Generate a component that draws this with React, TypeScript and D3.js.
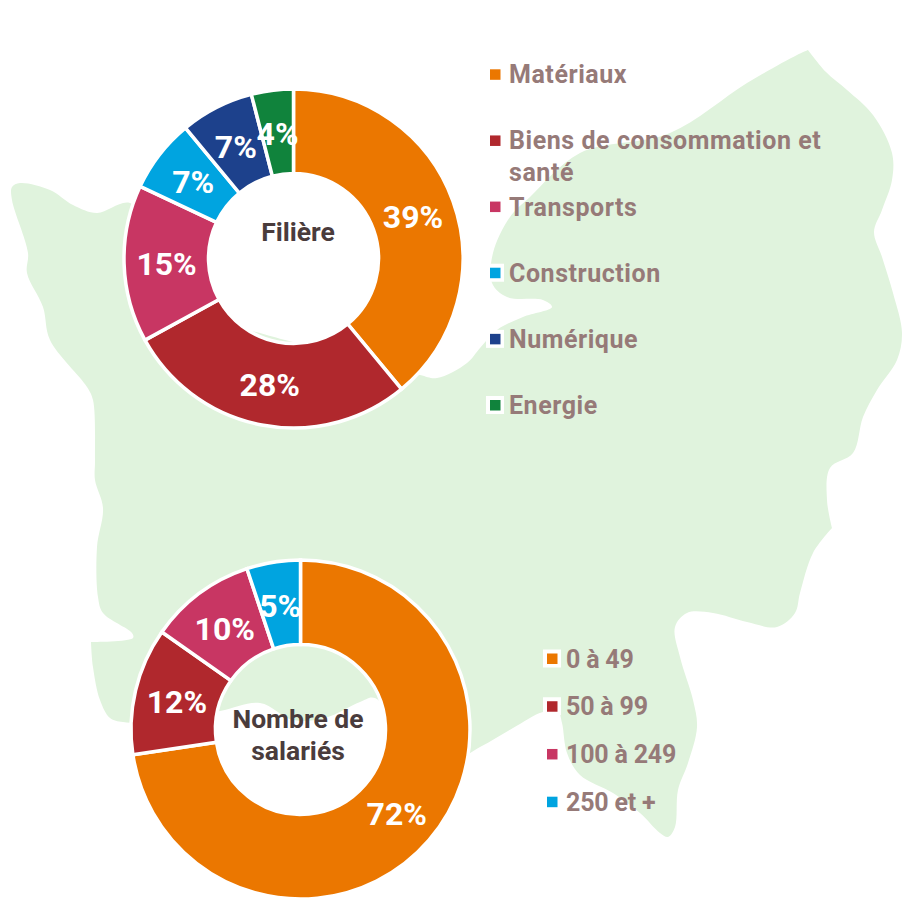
import React from "react";
import * as d3 from "d3";

// ---------- data ----------
const filiereCategories = [
  ["Matériaux"],
  ["Biens de consommation et", "santé"],
  ["Transports"],
  ["Construction"],
  ["Numérique"],
  ["Energie"],
];
const filiereValues = [39, 28, 15, 7, 7, 4];
const filiereTitle = ["Filière"];

const salariesCategories = [["0 à 49"], ["50 à 99"], ["100 à 249"], ["250 et +"]];
const salariesValues = [72.4, 12.1, 10.1, 5.1];
const salariesTitle = ["Nombre de", "salariés"];

const sliceColors = ["#EB7700", "#B0282D", "#C83663", "#00A4E0", "#1D418C", "#10833C"];

// Decorative map silhouette behind the charts.
// Each run ends at a sharp corner of the outline.
const mapRunEast: [number, number][] = [
  [808, 50], [826, 72], [847, 90], [873, 115], [892, 153], [892, 180], [882, 210], [874, 232],
  [882, 257], [893, 293], [902, 333], [897, 360], [877, 390], [863, 417], [853, 453], [830, 468],
  [827, 500], [832, 528],
];
const mapRunSouth: [number, number][] = [
  [832, 528], [813, 553], [800, 593], [795, 613], [777, 627], [747, 622], [713, 613],
  [687, 613], [675, 627], [680, 657], [693, 700], [697, 727], [688, 763], [678, 790], [675, 827],
  [668, 837], [660, 833], [640, 813], [613, 793], [580, 775], [567, 753], [562, 723], [558, 712],
  [543, 712], [513, 728], [480, 747], [430, 770], [375, 698], [360, 702], [325, 718], [293, 720],
  [260, 703], [220, 711], [160, 722], [123, 722], [110, 718], [100, 700], [93, 667], [91, 642],
];
const mapRunWest: [number, number][] = [
  [91, 642], [133, 638], [132, 633], [103, 613], [98, 597], [97, 547], [103, 508], [95, 480],
  [95, 460], [93, 400], [87, 387], [50, 340], [43, 307], [27, 273], [28, 253], [12, 200],
  [12, 187], [20, 183], [50, 190], [73, 205], [97, 213], [130, 203], [170, 245], [215, 318],
  [260, 333], [293, 342], [360, 358], [420, 375], [437, 378], [467, 363], [480, 348], [497, 330],
  [523, 317], [552, 307], [543, 300], [507, 297], [492, 283], [493, 253], [510, 217], [530, 197],
  [580, 153], [670, 133], [747, 83], [797, 55], [808, 50],
];

// ---------- helpers ----------
const FONT = "Roboto, 'Liberation Sans', sans-serif";
const LEGEND_COLOR = "#967A78";
const TITLE_COLOR = "#4A3C3C";
const MAP_COLOR = "#E0F3DD";

type DonutProps = {
  cx: number;
  cy: number;
  values: number[];
  title: string[];
  titleX: number;
  titleY: number;
};

function Donut({ cx, cy, values, title, titleX, titleY }: DonutProps) {
  const outer = 169.5;
  const inner = 85;
  const pie = d3.pie<number>().sort(null).value((d) => d);
  const arc = d3.arc<d3.PieArcDatum<number>>().outerRadius(outer).innerRadius(inner);
  const label = d3.arc<d3.PieArcDatum<number>>().outerRadius(127).innerRadius(127);
  const fmt = d3.format(".0f");
  return (
    <g>
      <g transform={`translate(${cx},${cy})`}>
        {pie(values).map((d, i) => (
          <path key={i} d={arc(d) ?? ""} fill={sliceColors[i]} stroke="#fff" strokeWidth={3.5} />
        ))}
        {pie(values).map((d, i) => {
          const [x, y] = label.centroid(d);
          return (
            <text
              key={i}
              x={x}
              y={y + 12.5}
              textAnchor="middle"
              fontFamily={FONT}
              fontWeight={700}
              fontSize={32}
              fill="#fff"
            >
              {fmt(d.data)}%
            </text>
          );
        })}
      </g>
      {title.map((line, i) => (
        <text
          key={line}
          x={titleX}
          y={titleY + i * 32}
          textAnchor="middle"
          fontFamily={FONT}
          fontWeight={700}
          fontSize={26.5}
          fill={TITLE_COLOR}
        >
          {line}
        </text>
      ))}
    </g>
  );
}

type LegendProps = {
  labels: string[][];
  colors: string[];
  x: number;
  y0: number;
  y1: number;
  spacing: number;
};

function Legend({ labels, colors, x, y0, y1, spacing }: LegendProps) {
  const y = d3.scaleLinear().domain([0, labels.length - 1]).range([y0, y1]);
  return (
    <g>
      {labels.map((lines, i) => (
        <g key={lines[0]}>
          <rect x={x - 4} y={y(i) - 9} width={18} height={18} fill="#fff" />
          <rect x={x} y={y(i) - 5} width={10.5} height={10.5} fill={colors[i]} />
          {lines.map((line, j) => (
            <text
              key={line}
              x={x + 19}
              y={y(i) + 9 + j * 32}
              fontFamily={FONT}
              fontWeight={700}
              fontSize={25}
              letterSpacing={spacing}
              fill={LEGEND_COLOR}
            >
              {line}
            </text>
          ))}
        </g>
      ))}
    </g>
  );
}

export default function App() {
  const run = d3.line().curve(d3.curveCatmullRom.alpha(0.5));
  const mapPath =
    [mapRunEast, mapRunSouth, mapRunWest]
      .map((pts, i) => {
        const d = run(pts) ?? "";
        return i === 0 ? d : d.replace(/^M/, "L");
      })
      .join("") + "Z";
  return (
    <svg
      width={909}
      height={909}
      viewBox="0 0 909 909"
      style={{ position: "absolute", left: 0, top: 0, background: "#fff" }}
    >
      <path d={mapPath} fill={MAP_COLOR} />
      <Donut cx={293.5} cy={258.5} values={filiereValues} title={filiereTitle} titleX={298} titleY={240.5} />
      <Legend labels={filiereCategories} colors={sliceColors} x={490} y0={74.3} y1={405} spacing={0.55} />
      <Donut cx={300.5} cy={729.5} values={salariesValues} title={salariesTitle} titleX={298} titleY={728} />
      <Legend labels={salariesCategories} colors={sliceColors} x={547} y0={658.5} y1={801.7} spacing={-0.2} />
    </svg>
  );
}
